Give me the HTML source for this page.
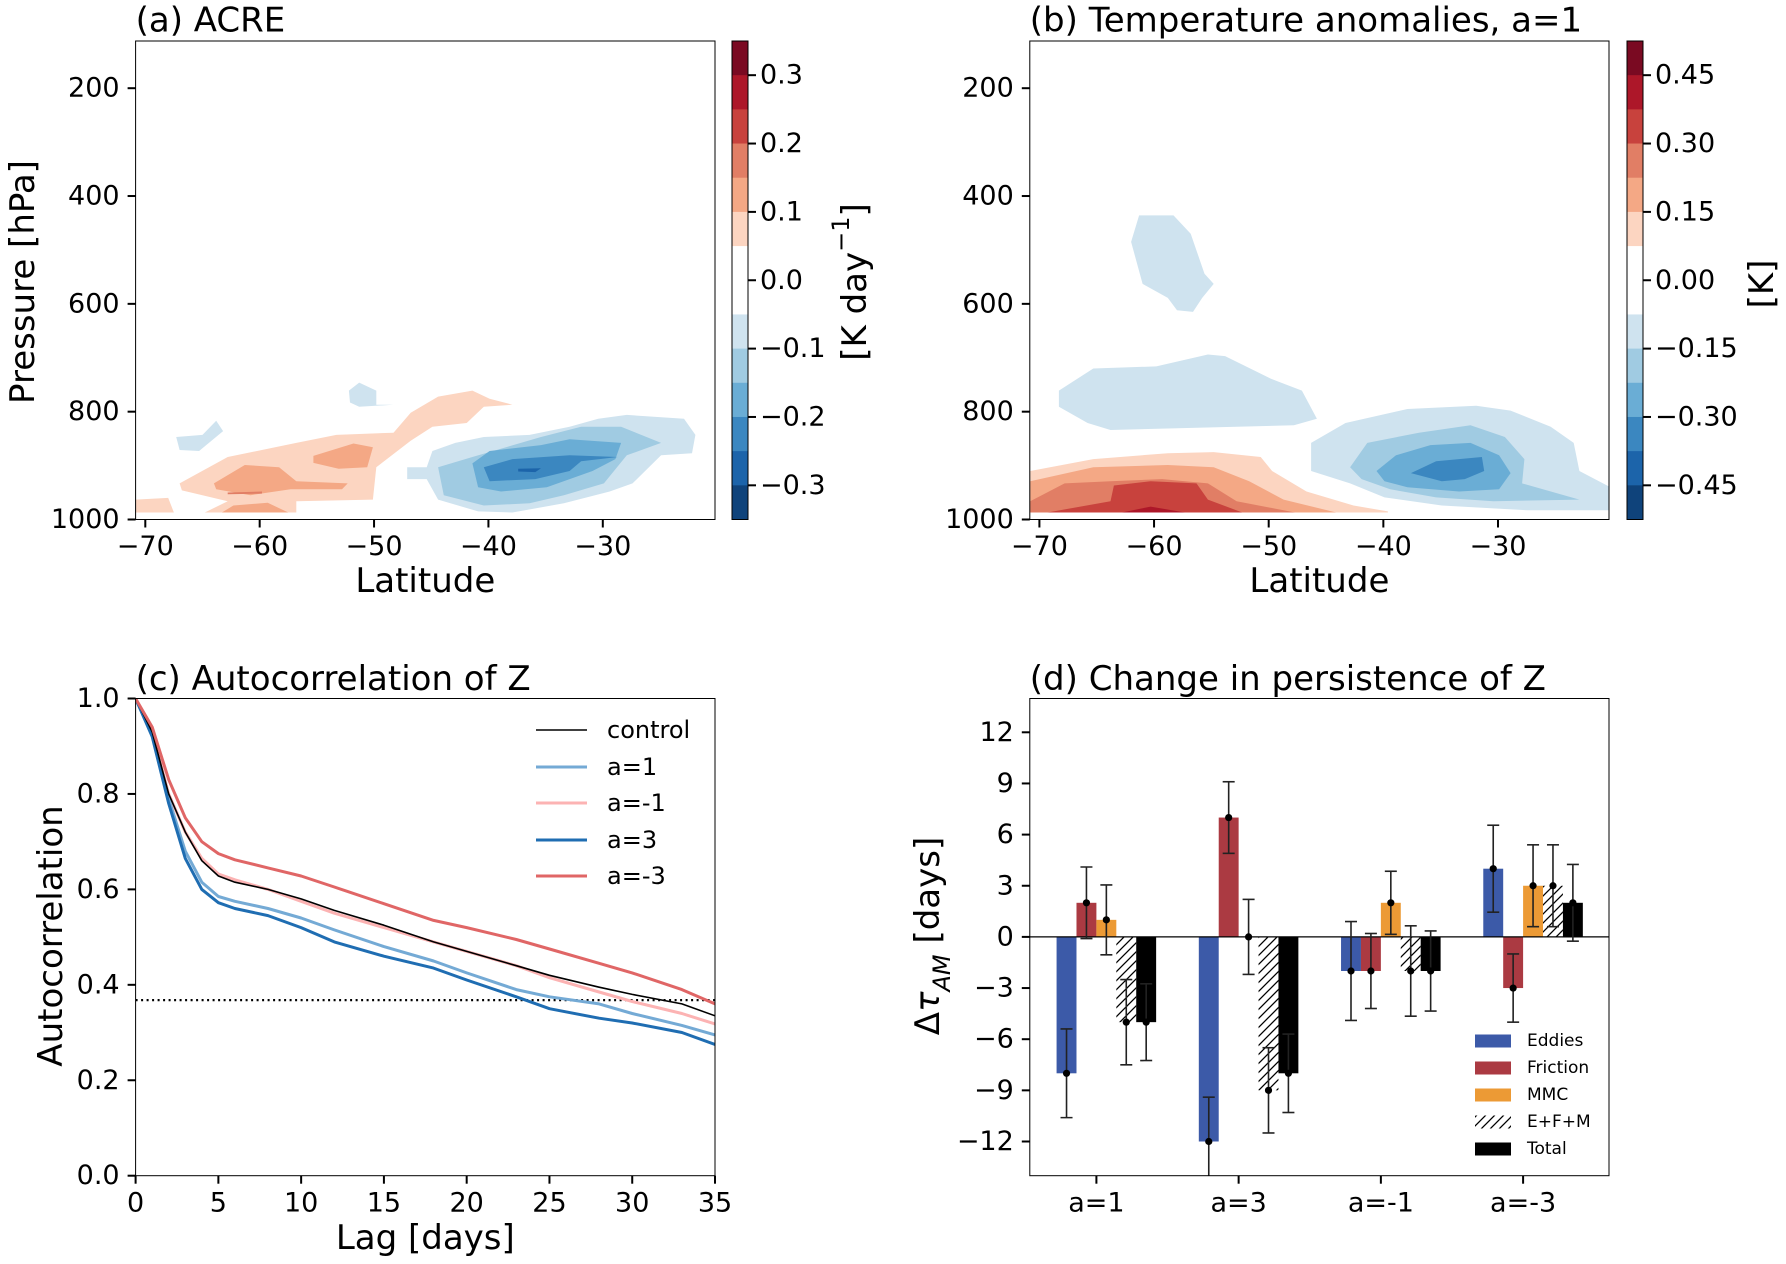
<!DOCTYPE html>
<html><head><meta charset="utf-8">
<style>
html,body{margin:0;padding:0;background:#fff;}
svg{display:block;font-family:"DejaVu Sans","Liberation Sans",sans-serif;}
</style></head>
<body>
<svg id="fig" width="1786" height="1264" viewBox="0 0 1786 1264" xmlns="http://www.w3.org/2000/svg">
<defs>
<pattern id="hatch" patternUnits="userSpaceOnUse" width="9" height="9">
<path d="M-1,10 L10,-1 M-1,1 L1,-1 M8,10 L10,8" stroke="#000" stroke-width="1.3"/>
</pattern>
<clipPath id="clipA"><rect x="135.6" y="41" width="579.4" height="478.5"/></clipPath>
<clipPath id="clipB"><rect x="1029.8" y="41" width="579.2" height="478.5"/></clipPath>
<clipPath id="clipC"><rect x="135.6" y="698.5" width="579.4" height="477.2"/></clipPath>
<clipPath id="clipD"><rect x="1029.8" y="698.5" width="579.2" height="477.2"/></clipPath>
</defs>
</svg>
<script>
// ---------- DATA ----------
// panel (a) ACRE contour regions: [lat, pressure]
const acreLevels = [0.075, -0.075, -0.075, 0.075, 0.125, 0.125, 0.125, 0.175, -0.075, -0.125, -0.175, -0.225, -0.275];
const acrePolys = [
 [[-67,933],[-62.8,884],[-56.8,858],[-53.3,843],[-48.3,839],[-46.8,802],[-44.4,772],[-41.4,761],[-39.9,776],[-37.9,787],[-40.4,791],[-41.9,821],[-44.9,828],[-46.8,854],[-49.8,903],[-50.1,963],[-56.8,966],[-56.8,987],[-64.8,987],[-62.8,966],[-66.8,946]],
 [[-67.3,847],[-65,843],[-63.8,817],[-63.2,836],[-65.3,873],[-67,871]],
 [[-52.2,761],[-51.3,746],[-49.8,761],[-49.8,787],[-48.3,787],[-51.3,791],[-52.1,783]],
 [[-70.9,963],[-68,960],[-67.5,987],[-70.9,987]],
 [[-55.3,882],[-51.8,859],[-50.1,866],[-50.6,903],[-53.1,906],[-55.3,895]],
 [[-64,933],[-61.3,899],[-58.3,903],[-56.8,929],[-52.3,933],[-52.8,944],[-57.3,944],[-60.8,955],[-63.8,944]],
 [[-63.3,987],[-62.3,974],[-59.3,969],[-57.5,987]],
 [[-62.8,950],[-59.8,948],[-59.8,952],[-62.8,953]],
 [[-47.1,903],[-45.4,903],[-44.9,873],[-42.9,858],[-40.4,847],[-36.4,843],[-32.9,828],[-30.4,813],[-27.9,806],[-22.9,813],[-21.9,843],[-22.2,877],[-24.9,881],[-27.4,933],[-29.4,948],[-33.4,970],[-37.9,987],[-40.9,985],[-44.4,963],[-45.4,925],[-47.1,925]],
 [[-44.4,903],[-41.4,884],[-35.4,847],[-31.9,828],[-28.4,828],[-24.9,858],[-27.9,881],[-29.9,933],[-33.4,955],[-36.4,970],[-40.4,974],[-43.9,955]],
 [[-41.4,896],[-39.9,873],[-35.4,862],[-32.9,851],[-28.4,858],[-28.9,888],[-30.9,910],[-34.9,940],[-38.9,948],[-40.9,940]],
 [[-40.4,903],[-37.9,888],[-32.9,881],[-28.7,884],[-31.9,892],[-32.9,910],[-35.9,925],[-39.9,929]],
 [[-37.4,906],[-35.4,905],[-35.9,912],[-37.4,911]]
];
// panel (b) temperature anomaly contour regions
const tempLevels = [-0.1125, -0.1125, -0.1125, -0.1875, -0.2625, -0.3375, 0.1125, 0.1875, 0.2625, 0.3375, 0.4125];
const tempPolys = [
 [[-61.3,436],[-58.3,436],[-56.8,470],[-55.6,544],[-54.8,563],[-55.8,589],[-56.6,615],[-58,612],[-58.8,589],[-61,563],[-62,485]],
 [[-68.3,761],[-65.3,720],[-59.8,716],[-55.3,694],[-53.8,697],[-49.8,739],[-47.1,761],[-45.8,813],[-47.8,825],[-52.8,828],[-63.8,834],[-65.8,821],[-68.3,791]],
 [[-46.3,858],[-43.3,821],[-37.9,795],[-31.9,789],[-28.9,798],[-25.4,828],[-23.4,858],[-22.9,910],[-20.2,940],[-20.2,983],[-27.4,983],[-34.9,974],[-39.9,959],[-42.9,933],[-46.3,910]],
 [[-42.9,903],[-41.4,858],[-36.9,839],[-32.4,825],[-29.4,847],[-27.7,888],[-27.9,933],[-22.9,963],[-30.4,966],[-35.4,959],[-39.4,944],[-41.9,925]],
 [[-40.6,910],[-38.9,881],[-35.9,862],[-32.4,858],[-29.9,881],[-28.9,914],[-29.9,944],[-33.4,948],[-37.9,940],[-39.9,929]],
 [[-37.6,914],[-35.4,892],[-31.4,884],[-31.2,910],[-32.9,925],[-34.9,929]],
 [[-70.8,910],[-65.3,888],[-58.8,877],[-54.8,875],[-50.7,884],[-49.7,910],[-46.7,948],[-42.6,974],[-39.6,985],[-39.6,987],[-70.8,987]],
 [[-70.8,929],[-65.3,903],[-58.8,899],[-54.8,903],[-51.7,929],[-48.7,963],[-44.1,987],[-70.8,987]],
 [[-70.8,966],[-67.8,933],[-63.8,929],[-59.3,925],[-55.3,933],[-52.8,966],[-47.7,987],[-70.8,987]],
 [[-69.3,987],[-63.8,966],[-63.5,937],[-60.3,929],[-56.3,933],[-55.3,963],[-52.3,987]],
 [[-62.8,987],[-60.3,976],[-57.3,987]]
];
const acreCbarTicks = [0.3, 0.2, 0.1, 0.0, -0.1, -0.2, -0.3];
const tempCbarTicks = [0.45, 0.30, 0.15, 0.00, -0.15, -0.30, -0.45];
const latTicks = [-70, -60, -50, -40, -30];
const presTicks = [200, 400, 600, 800, 1000];

// panel (c) autocorrelation
const lags = [0,1,2,3,4,5,6,8,10,12,15,18,20,23,25,28,30,33,35];
const acControl = [1,0.93,0.80,0.72,0.66,0.628,0.615,0.60,0.58,0.556,0.525,0.49,0.47,0.44,0.42,0.395,0.38,0.36,0.335];
const acA1 = [1,0.925,0.79,0.68,0.615,0.585,0.575,0.56,0.54,0.515,0.48,0.45,0.425,0.39,0.375,0.36,0.34,0.315,0.295];
const acAm1 = [1,0.93,0.80,0.72,0.665,0.632,0.62,0.60,0.575,0.55,0.52,0.49,0.47,0.44,0.415,0.385,0.365,0.34,0.318];
const acA3 = [1,0.92,0.78,0.665,0.60,0.572,0.56,0.545,0.52,0.49,0.46,0.435,0.41,0.375,0.35,0.33,0.32,0.30,0.275];
const acAm3 = [1,0.94,0.83,0.75,0.70,0.675,0.662,0.645,0.628,0.605,0.57,0.535,0.52,0.495,0.475,0.445,0.425,0.39,0.36];
const efoldLevel = 0.368;
const lagTicks = [0,5,10,15,20,25,30,35];
const acTicks = [0.0,0.2,0.4,0.6,0.8,1.0];

// panel (d) persistence change
const cats = ["a=1","a=3","a=-1","a=-3"];
const terms = ["Eddies","Friction","MMC","E+F+M","Total"];
const eddies = [-8,-12,-2,4];
const friction = [2,7,-2,-3];
const mmc = [1,0,2,3];
const efm = [-5,-9,-2,3];
const total = [-5,-8,-2,2];
const eddiesErr = [2.6,2.6,2.9,2.55];
const frictionErr = [2.1,2.1,2.2,2.0];
const mmcErr = [2.05,2.2,1.85,2.4];
const efmErr = [2.5,2.5,2.65,2.4];
const totalErr = [2.25,2.3,2.35,2.25];
const dTicks = [12,9,6,3,0,-3,-6,-9,-12];

// ---------- DRAW ----------
const svg = document.getElementById('fig');
const NS = 'http://www.w3.org/2000/svg';
function mk(tag, attrs, parent){const e=document.createElementNS(NS,tag);for(const k in attrs)e.setAttribute(k,attrs[k]);(parent||svg).appendChild(e);return e;}
function txt(s,x,y,size,anchor,parent,extra){const t=mk('text',Object.assign({x:x,y:y,'font-size':size,'text-anchor':anchor||'middle','dominant-baseline':'central',fill:'#000'},extra||{}),parent);t.textContent=s;return t;}
function lin(d0,d1,r0,r1){return v=>r0+(v-d0)*(r1-r0)/(d1-d0);}
const fmt = v => (v<0?'\u2212':'')+Math.abs(v).toString();

const cbColors=['#7a0a22','#ad1729','#c8423d','#e17e65','#f4a885','#fcd5c1','#ffffff','#ffffff','#cfe3ef','#a0cbe2','#6aadd5','#3b87c0','#1c64aa','#0f437b'];
function colorFor(v,vmax){const n=14;let i=Math.floor((vmax-v)/(2*vmax/n));i=Math.max(0,Math.min(n-1,i));return cbColors[i];}

function contourPanel(name,L,T,R,B,xs,ys,levels,polys,vmax,clip,cbx,cbTicks,cbDec,cbLabel,title){
 const g=mk('g',{'clip-path':'url(#'+clip+')'});
 
 
 const order=levels.map((v,i)=>i).sort((a,b)=>Math.abs(levels[a])-Math.abs(levels[b]));
 order.forEach(i=>{
  const p=mk('polygon',{points:polys[i].map(q=>xs(q[0]).toFixed(1)+','+ys(q[1]).toFixed(1)).join(' '),fill:colorFor(levels[i],vmax),stroke:'none'},g);
  
  
 });
 const fr=mk('rect',{x:L,y:T,width:R-L,height:B-T,fill:'none',stroke:'#000','stroke-width':1});
 
 
 latTicks.forEach(v=>{const x=xs(v);mk('line',{x1:x,x2:x,y1:B,y2:B+8,stroke:'#000','stroke-width':2});
  const t=txt(fmt(v),x,B+27,27);});
 presTicks.forEach(v=>{const y=ys(v);mk('line',{x1:L-8,x2:L,y1:y,y2:y,stroke:'#000','stroke-width':2});
  const t=txt(String(v),L-16,y,27,'end');});
 const xl=txt('Latitude',(L+R)/2,581,34);
 const tt=txt(title,L,20.5,34,'start');
 const cb=mk('g',{});
 const h=(B-T)/14;
 cbColors.forEach((c,i)=>{mk('rect',{x:cbx,y:T+i*h,width:16,height:h+0.5,fill:c},cb);});
 mk('rect',{x:cbx,y:T,width:16,height:B-T,fill:'none',stroke:'#000','stroke-width':1},cb);
 const cy=lin(-vmax,vmax,B,T);
 cbTicks.forEach(v=>{const y=cy(v);mk('line',{x1:cbx+16,x2:cbx+24,y1:y,y2:y,stroke:'#000','stroke-width':2},cb);
  const s=(v<0?'\u2212':'')+Math.abs(v).toFixed(cbDec);const t=txt(s,cbx+28,y,27,'start',cb);});
 return cb;
}
// panel a
const xA=lin(-70,-30,145.3,602.8), yA=lin(200,1000,88.2,519.5);
contourPanel('acre',135.6,41,715,519.5,xA,yA,acreLevels,acrePolys,0.35,'clipA',732,acreCbarTicks,1,'','(a) ACRE');
let t;
t=txt('Pressure [hPa]',23,282,34,'middle',null,{transform:'rotate(-90 23 282)'});
t=mk('text',{x:855,y:282,'font-size':34,'text-anchor':'middle','dominant-baseline':'central',transform:'rotate(-90 855 282)'});
t.innerHTML='[K day<tspan baseline-shift="super" font-size="24">\u22121</tspan>]';

// panel b
const xB=lin(-70,-30,1039.4,1498), yB=lin(200,1000,88.2,519.5);
contourPanel('temp',1029.8,41,1609,519.5,xB,yB,tempLevels,tempPolys,0.525,'clipB',1627,tempCbarTicks,2,'','(b) Temperature anomalies, a=1');
t=txt('[K]',1762,284,34,'middle',null,{transform:'rotate(-90 1762 284)'});

// panel c
const xC=lin(0,35,135.6,715), yC=lin(0,1,1175.7,698.5);
(function(){
 const L=135.6,R=715,T=698.5,B=1175.7;
 const dl=mk('line',{x1:L,x2:R,y1:yC(efoldLevel),y2:yC(efoldLevel),stroke:'#000','stroke-width':2.2,'stroke-dasharray':'2,3.5'});
 
 const series=[['control',acControl,'#000',1.6],['a=1',acA1,'#74aad5',3],['a=-1',acAm1,'#fcb3b3',3],['a=3',acA3,'#1f6db2',3],['a=-3',acAm3,'#e06666',3]];
 [2,1,3,0,4].forEach(i=>{const s=series[i];
  const p=mk('polyline',{points:lags.map((d,j)=>xC(d).toFixed(1)+','+yC(s[1][j]).toFixed(1)).join(' '),fill:'none',stroke:s[2],'stroke-width':s[3],'clip-path':'url(#clipC)','stroke-linejoin':'round'});
  });
 const fr=mk('rect',{x:L,y:T,width:R-L,height:B-T,fill:'none',stroke:'#000','stroke-width':1});
 
 lagTicks.forEach(v=>{const x=xC(v);mk('line',{x1:x,x2:x,y1:B,y2:B+8,stroke:'#000','stroke-width':2});
  const tt=txt(String(v),x,1203,27);});
 acTicks.forEach(v=>{const y=yC(v);mk('line',{x1:L-8,x2:L,y1:y,y2:y,stroke:'#000','stroke-width':2});
  const tt=txt(v.toFixed(1),L-16,y,27,'end');});
 let q=txt('Lag [days]',(L+R)/2,1238,34);
 q=txt('Autocorrelation',51,936,34,'middle',null,{transform:'rotate(-90 51 936)'});
 q=txt('(c) Autocorrelation of Z',L,679,34,'start');
 const lg=mk('g',{});
 const ly=[730,767,803,840,876];
 series.forEach((s,i)=>{mk('line',{x1:536,x2:587,y1:ly[i],y2:ly[i],stroke:s[2],'stroke-width':s[3]},lg);
  const e=txt(s[0],607,ly[i],24,'start',lg);});
})();

// panel d
const xD=lin(0,3,1096.4,1523.1), yD=lin(0,12,936.9,732.3);
(function(){
 const L=1029.8,R=1609,T=698.5,B=1175.7;
 const vals=[eddies,friction,mmc,efm,total];
 const errs=[eddiesErr,frictionErr,mmcErr,efmErr,totalErr];
 const fills=['#3c5aa8','#ab3a42','#ec9a35','url(#hatch)','#000'];
 const bw=0.14, unit=xD(1)-xD(0);
 const g=mk('g',{'clip-path':'url(#clipD)'});
 
 cats.forEach((c,ci)=>{
  vals.forEach((arr,ti)=>{
   const cx=xD(ci+(ti-1.5)*bw), v=arr[ci];
   const y0=yD(0), y1=yD(v);
   const r=mk('rect',{x:cx-bw*unit/2,y:Math.min(y0,y1),width:bw*unit,height:Math.abs(y1-y0),fill:fills[ti]},g);
   
   
  });
 });
 const z=mk('line',{x1:L,x2:R,y1:yD(0),y2:yD(0),stroke:'#000','stroke-width':1.2});
 
 const ge=mk('g',{'clip-path':'url(#clipD)'});
 
 cats.forEach((c,ci)=>{
  vals.forEach((arr,ti)=>{
   const cx=xD(ci+(ti-1.5)*bw), v=arr[ci], e=errs[ti][ci];
   const yt=yD(v+e), yb=yD(v-e);
   mk('line',{x1:cx,x2:cx,y1:yt,y2:yb,stroke:'#222','stroke-width':1.6},ge);
   mk('line',{x1:cx-6,x2:cx+6,y1:yt,y2:yt,stroke:'#222','stroke-width':1.6},ge);
   mk('line',{x1:cx-6,x2:cx+6,y1:yb,y2:yb,stroke:'#222','stroke-width':1.6},ge);
   mk('circle',{cx:cx,cy:yD(v),r:3.6,fill:'#000'},ge);
  });
 });
 const fr=mk('rect',{x:L,y:T,width:R-L,height:B-T,fill:'none',stroke:'#000','stroke-width':1});
 
 cats.forEach((c,ci)=>{const x=xD(ci);mk('line',{x1:x,x2:x,y1:B,y2:B+8,stroke:'#000','stroke-width':2});
  const tt=txt(c,x,1203,27);});
 dTicks.forEach(v=>{const y=yD(v);mk('line',{x1:L-8,x2:L,y1:y,y2:y,stroke:'#000','stroke-width':2});
  const tt=txt(fmt(v),L-16,y,27,'end');});
 let q=mk('text',{x:928,y:936,'font-size':34,'text-anchor':'middle','dominant-baseline':'central',transform:'rotate(-90 928 936)'});
 q.innerHTML='\u0394<tspan font-style="italic">\u03c4</tspan><tspan font-style="italic" font-size="24" baseline-shift="sub">AM</tspan> [days]';
 
 q=txt('(d) Change in persistence of Z',L,679,34,'start');
 const lg=mk('g',{});
 const ly=[1041,1068,1095,1122,1149];
 terms.forEach((s,i)=>{mk('rect',{x:1475,y:ly[i]-6.5,width:36,height:13,fill:fills[i]},lg);
  const e=txt(s,1527,ly[i],17,'start',lg);});
})();
</script>
</body></html>
